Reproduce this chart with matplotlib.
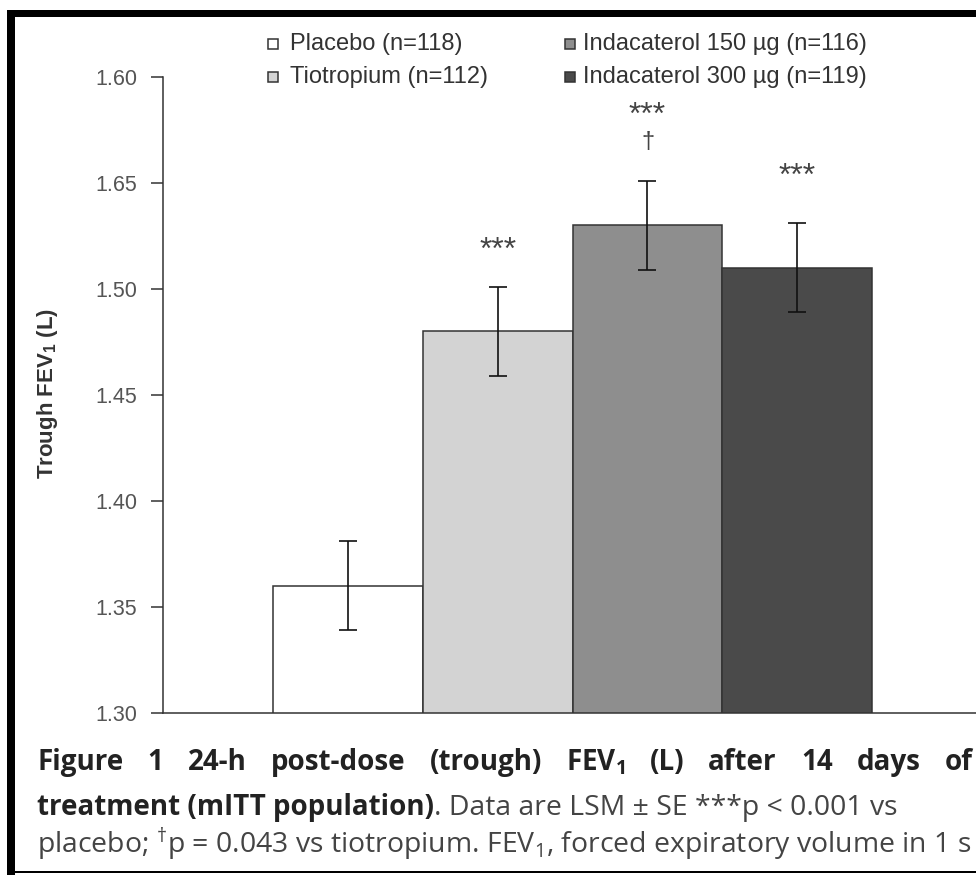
import matplotlib
matplotlib.use("Agg")
import matplotlib.pyplot as plt
from matplotlib.patches import Rectangle
import numpy as np

# ---- data -------------------------------------------------------------
groups = ["Placebo (n=118)", "Tiotropium (n=112)",
          "Indacaterol 150 µg (n=116)", "Indacaterol 300 µg (n=119)"]
lsm = [1.36, 1.48, 1.53, 1.51]          # trough FEV1 (L), least-squares mean
se = [0.021, 0.021, 0.021, 0.021]       # standard error
stars = ["", "***", "***", "***"]       # p < 0.001 vs placebo
daggers = ["", "", "†", ""]             # p = 0.043 vs tiotropium
ytick_values = [1.30, 1.35, 1.40, 1.45, 1.50, 1.55, 1.60]
ytick_labels = ["1.30", "1.35", "1.40", "1.45", "1.50", "1.65", "1.60"]

# ---- style ------------------------------------------------------------
fills = ["#ffffff", "#d3d3d3", "#8e8e8e", "#4a4a4a"]
edge = "#333333"
SANS = ["Liberation Sans", "DejaVu Sans"]
CAP = ["Open Sans", "DejaVu Sans"]
plt.rcParams["font.family"] = SANS
plt.rcParams["mathtext.default"] = "regular"

W, H = 976, 875
fig = plt.figure(figsize=(W / 100, H / 100), dpi=100)


def fx(px):
    return px / W


def fy(py):
    return 1 - py / H


# ---- axes -------------------------------------------------------------
ax_left, ax_right, ax_top, ax_bottom = 163, 976, 77, 713
ax = fig.add_axes([fx(ax_left), fy(ax_bottom),
                   (ax_right - ax_left) / W, (ax_bottom - ax_top) / H])

x = np.arange(len(lsm))
ax.bar(x, lsm, width=1.0, color=fills, edgecolor=edge, linewidth=1.1)
ax.errorbar(x, lsm, yerr=se, fmt="none", ecolor="#111111",
            elinewidth=1.2, capsize=6.5, capthick=1.2)

ax.set_xlim(-1.2346, 4.1945)
ax.set_ylim(1.30, 1.60)
ax.set_yticks(ytick_values)
ax.set_yticklabels(ytick_labels)
ax.set_xticks([])
ax.tick_params(axis="y", direction="out", length=8.5, width=1.1,
               color=edge, pad=10, labelsize=15.5, labelcolor="#555555")
for side in ("top", "right"):
    ax.spines[side].set_visible(False)
for side in ("left", "bottom"):
    ax.spines[side].set_color(edge)
    ax.spines[side].set_linewidth(1.1)

# significance marks above the error bars
star_offsets = [0, 28, 57, 38]     # pixels above the error-bar cap
dagger_offsets = [0, 0, 33, 0]
for i in range(len(lsm)):
    top = lsm[i] + se[i]
    if stars[i]:
        ax.annotate(stars[i], xy=(x[i], top), xytext=(0, star_offsets[i]),
                    textcoords="offset pixels", ha="center", va="baseline",
                    fontsize=23, color="#444444", annotation_clip=False)
    if daggers[i]:
        ax.annotate(r"$\mathregular{%s}$" % daggers[i], xy=(x[i], top),
                    xytext=(0, dagger_offsets[i]),
                    textcoords="offset pixels", ha="center", va="baseline",
                    fontsize=17, color="#444444", annotation_clip=False)

# y label
fig.text(fx(48), fy(394), r"Trough FEV$_\mathregular{1}$ (L)", rotation=90,
         ha="center", va="center", fontsize=16, fontweight="bold",
         color="#333333")

# ---- legend (two columns of swatches) --------------------------------
swatch_x = [268, 268, 565, 565]
text_x = [290, 290, 583, 583]
base_y = [50, 83, 50, 83]
for i, name in enumerate(groups):
    fig.add_artist(Rectangle((fx(swatch_x[i]), fy(base_y[i] - 1)),
                             10 / W, 10 / H, transform=fig.transFigure,
                             facecolor=fills[i], edgecolor=edge, linewidth=1.1))
    fig.text(fx(text_x[i]), fy(base_y[i]), name, ha="left", va="baseline",
             fontsize=17, color="#333333")

# ---- frame ------------------------------------------------------------
fig.add_artist(Rectangle((fx(7), 0), 8 / W, fy(10), transform=fig.transFigure,
                         facecolor="black", edgecolor="none"))
fig.add_artist(Rectangle((fx(7), fy(17)), (W - 7) / W, 7 / H,
                         transform=fig.transFigure, facecolor="black",
                         edgecolor="none"))
fig.add_artist(Rectangle((fx(7), fy(873)), (W - 7) / W, 2 / H,
                         transform=fig.transFigure, facecolor="black",
                         edgecolor="none"))

# ---- caption ----------------------------------------------------------
renderer = fig.canvas.get_renderer()
bold = dict(family=CAP, fontsize=20, fontweight="bold", color="#222222")
reg = dict(family=CAP, fontsize=20.4, color="#444444")


def put(text, px, base, props):
    t = fig.text(fx(px), fy(base), text, ha="left", va="baseline", **props)
    return t.get_window_extent(renderer).width


def justify(words, x0, x1, base, props):
    items = [fig.text(0, fy(base), w, ha="left", va="baseline", **props)
             for w in words]
    widths = [t.get_window_extent(renderer).width for t in items]
    gap = (x1 - x0 - sum(widths)) / (len(words) - 1)
    cur = x0
    for t, w in zip(items, widths):
        t.set_x(fx(cur))
        cur += w + gap


line1 = ["Figure", "1", "24-h", "post-dose", "(trough)",
         r"FEV$_\mathregular{1}$", "(L)", "after", "14", "days", "of"]
justify(line1, 37, 973, 770, bold)

w = put("treatment (mITT population)", 37, 815, bold)
put(". Data are LSM ± SE ***p < 0.001 vs", 37 + w, 815, reg)

put(r"placebo; $^{\dagger}$p = 0.043 vs tiotropium. FEV$_\mathregular{1}$, "
    "forced expiratory volume in 1 s", 37, 853, reg)

fig.savefig("out.png", dpi=100)
